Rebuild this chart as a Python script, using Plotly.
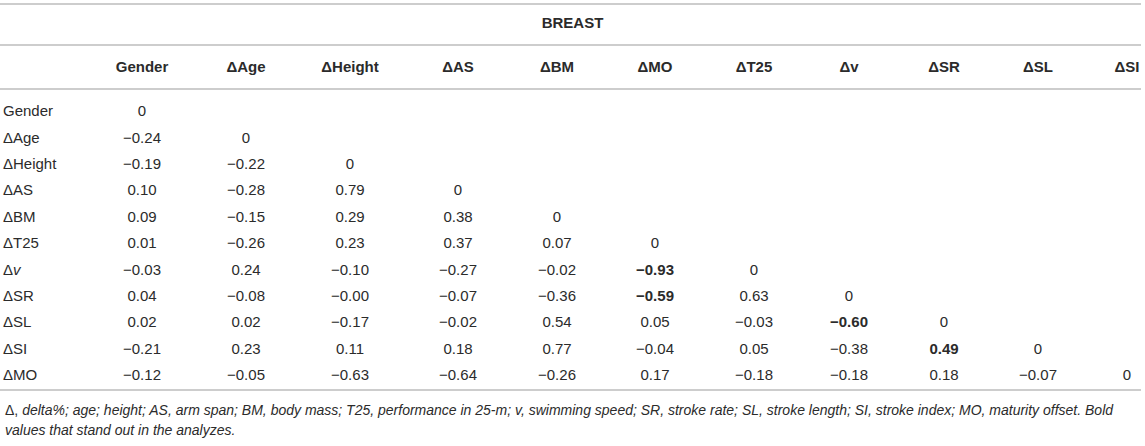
import plotly.graph_objects as go

# table content
title = "BREAST"
columns = ["Gender", "ΔAge", "ΔHeight", "ΔAS", "ΔBM", "ΔMO", "ΔT25", "Δv", "ΔSR", "ΔSL", "ΔSI"]
rows = ["Gender", "ΔAge", "ΔHeight", "ΔAS", "ΔBM", "ΔT25", "Δ<i>v</i>", "ΔSR", "ΔSL", "ΔSI", "ΔMO"]

r_gender = [0]
r_age = [-0.24, 0]
r_height = [-0.19, -0.22, 0]
r_as = [0.10, -0.28, 0.79, 0]
r_bm = [0.09, -0.15, 0.29, 0.38, 0]
r_t25 = [0.01, -0.26, 0.23, 0.37, 0.07, 0]
r_v = [-0.03, 0.24, -0.10, -0.27, -0.02, -0.93, 0]
r_sr = [0.04, -0.08, -0.00, -0.07, -0.36, -0.59, 0.63, 0]
r_sl = [0.02, 0.02, -0.17, -0.02, 0.54, 0.05, -0.03, -0.60, 0]
r_si = [-0.21, 0.23, 0.11, 0.18, 0.77, -0.04, 0.05, -0.38, 0.49, 0]
r_mo = [-0.12, -0.05, -0.63, -0.64, -0.26, 0.17, -0.18, -0.18, 0.18, -0.07, 0]
values = [r_gender, r_age, r_height, r_as, r_bm, r_t25, r_v, r_sr, r_sl, r_si, r_mo]

# (row, col) cells printed in bold
bold_cells = [(6, 5), (7, 5), (8, 7), (9, 8)]

note_1 = ("Δ, <i>delta%; age; height; AS, arm span; BM, body mass; T25, performance in 25-m; "
          "v, swimming speed; SR, stroke rate; SL, stroke length; SI, stroke index; "
          "MO, maturity offset. Bold</i>")
note_2 = "<i>values that stand out in the analyzes.</i>"

# layout of the table (pixels)
W, H = 1145, 446
col_x = [142, 246, 350, 458, 557, 655, 754, 849, 944, 1038, 1127]
row_y0 = 112.5
row_h = 26.4
label_x = 3
txt = "#2b2b2b"
rule = "#bdbdbd"
font = "Liberation Sans, Arial, Helvetica, sans-serif"


def fmt(v):
    if isinstance(v, int):
        return str(v)
    return f"{v:.2f}".replace("-", "\u2212")


xs, ys, ts = [], [], []
for i, row in enumerate(values):
    for j, v in enumerate(row):
        s = fmt(v)
        if (i, j) in bold_cells:
            s = "<b>" + s + "</b>"
        xs.append(col_x[j])
        ys.append(row_y0 + i * row_h)
        ts.append(s)

fig = go.Figure()

# cell values
fig.add_trace(go.Scatter(x=xs, y=ys, text=ts, mode="text", textposition="middle center",
                         textfont=dict(size=15, color=txt, family=font), hoverinfo="skip"))
# row labels
fig.add_trace(go.Scatter(x=[label_x] * len(rows), y=[row_y0 + i * row_h for i in range(len(rows))],
                         text=rows, mode="text", textposition="middle right",
                         textfont=dict(size=15, color=txt, family=font), hoverinfo="skip"))
# column headers
fig.add_trace(go.Scatter(x=col_x, y=[68] * len(columns), text=["<b>" + c + "</b>" for c in columns],
                         mode="text", textposition="middle center",
                         textfont=dict(size=15, color=txt, family=font), hoverinfo="skip"))
# spanning title
fig.add_trace(go.Scatter(x=[W / 2], y=[24], text=["<b>" + title + "</b>"], mode="text",
                         textposition="middle center",
                         textfont=dict(size=15, color=txt, family=font), hoverinfo="skip"))

# horizontal rules
for yy in [4, 45, 89, 390]:
    fig.add_shape(type="line", x0=0, x1=1141, y0=yy, y1=yy, xref="x", yref="y",
                  line=dict(color=rule, width=1.5))

# footnote
for k, note in enumerate([note_1, note_2]):
    fig.add_annotation(x=label_x, y=410 + k * 19.5, text=note, showarrow=False, xanchor="left",
                       yanchor="middle", xref="x", yref="y",
                       font=dict(size=14, color=txt, family=font))

fig.update_layout(
    width=W, height=H,
    margin=dict(l=0, r=0, t=0, b=0),
    paper_bgcolor="white", plot_bgcolor="white",
    showlegend=False,
    xaxis=dict(range=[0, W], visible=False, fixedrange=True),
    yaxis=dict(range=[H, 0], visible=False, fixedrange=True),
)

# page body has an 8px margin by default, drop it so the table sits at the corner
fig.write_html("out.html", config={"displayModeBar": False},
               post_script="document.body.style.margin='0';")
